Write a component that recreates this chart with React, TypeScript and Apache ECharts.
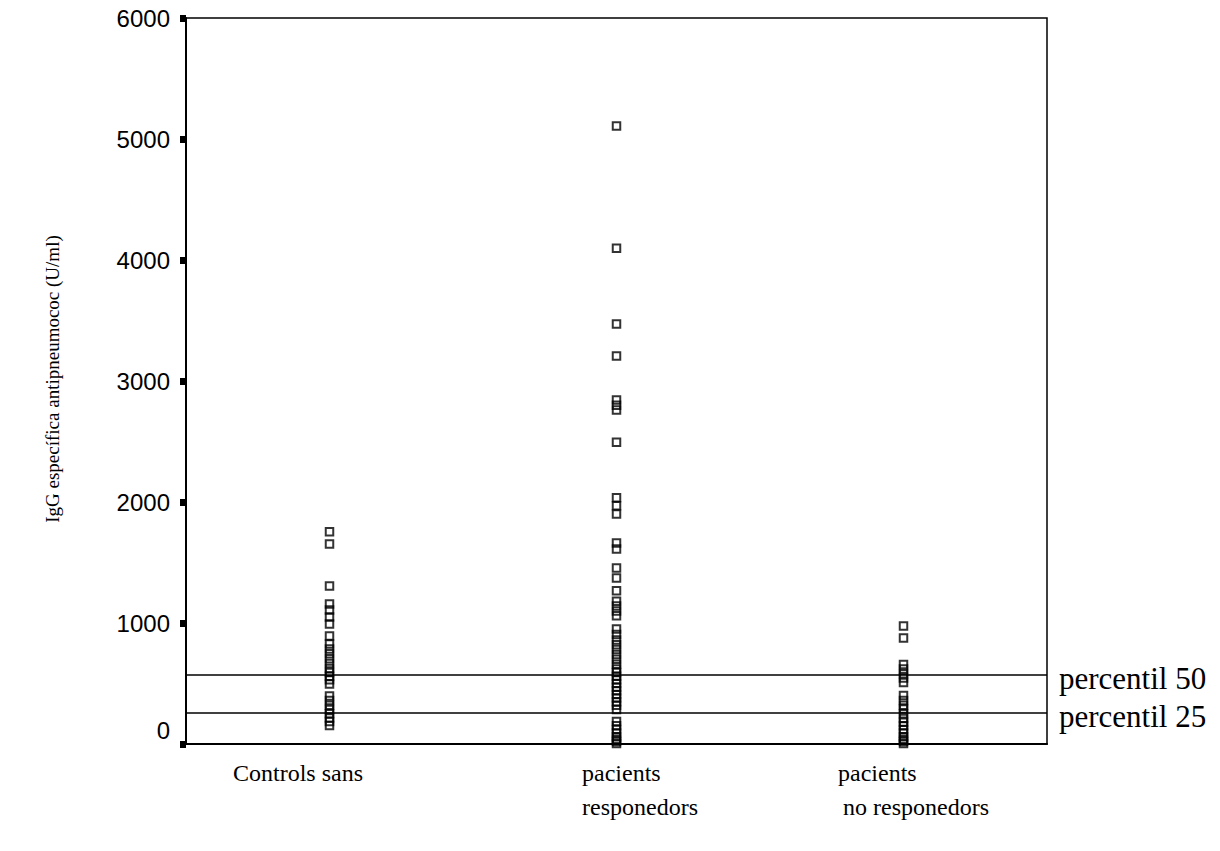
import React, { useEffect, useRef } from "react";
import * as echarts from "echarts";

const categories = ["Controls sans", "pacients responedors", "pacients no responedors"];
const categoryLabelLines = [["Controls sans"], ["pacients", "responedors"], ["pacients", "no responedors"]];

const controls = [1755, 1653, 1306, 1157, 1107, 1050, 992, 893, 826, 785, 745, 705, 665, 625, 590, 560, 530, 496, 397, 360, 320, 285, 250, 215, 185, 153];
const responders = [5107, 4097, 3471, 3207, 2843, 2800, 2760, 2493, 2035, 1969, 1901, 1661, 1612, 1455, 1372, 1267, 1180, 1140, 1100, 1060, 950, 905, 860, 820, 780, 740, 700, 660, 620, 590, 560, 530, 500, 470, 440, 410, 380, 350, 320, 285, 186, 150, 120, 90, 60, 40, 20, 5];
const nonResponders = [975, 876, 657, 620, 580, 545, 508, 400, 360, 320, 290, 250, 210, 180, 150, 120, 90, 60, 40, 20, 5];

const percentileValues = [574, 259];
const percentileLabels = ["percentil 50", "percentil 25"];

const yMin = 0;
const yMax = 6000;
const yInterval = 1000;

const yTitle = "IgG específica antipneumococ (U/ml)";

const SERIF = "'Liberation Serif', 'Times New Roman', serif";
const SANS = "'Liberation Sans', Arial, sans-serif";

export default function App() {
  const ref = useRef<HTMLDivElement>(null);
  useEffect(() => {
    if (!ref.current) return;
    const chart = echarts.init(ref.current, undefined, { renderer: "svg" });
    const groups = [controls, responders, nonResponders];
    const markerStyle = {
      color: "rgba(0,0,0,0)",
      borderColor: "#000",
      borderWidth: 2,
    };
    const series: any[] = groups.map((vals, gi) => ({
      type: "scatter",
      name: categories[gi],
      symbol: "rect",
      symbolSize: 7.5,
      itemStyle: markerStyle,
      data: vals.map((v) => [gi, v]),
      z: 3,
    }));
    series.push({
      type: "line",
      data: [],
      markLine: {
        silent: true,
        symbol: ["none", "none"],
        lineStyle: { color: "#000", width: 1.5, type: "solid" },
        label: {
          show: true,
          position: "end",
          distance: 12,
          fontFamily: SERIF,
          fontSize: 31,
          color: "#000",
          offset: [0, 4],
          formatter: (p: any) => percentileLabels[p.dataIndex],
        },
        data: percentileValues.map((v) => ({ yAxis: v })),
      },
    });

    const graphics: any[] = [];
    const labelLefts = [233, 582, 838];
    const labelLeftsLine2 = [233, 582, 843];
    categoryLabelLines.forEach((lines, i) => {
      lines.forEach((t, j) => {
        graphics.push({
          type: "text",
          x: j === 0 ? labelLefts[i] : labelLeftsLine2[i],
          y: 773 + j * 34,
          style: { text: t, font: `24px ${SERIF}`, fill: "#000", verticalAlign: "middle", align: "left" },
        });
      });
    });
    graphics.push({
      type: "text",
      x: 52,
      y: 379,
      rotation: Math.PI / 2,
      style: {
        text: yTitle,
        font: `19px ${SERIF}`,
        fill: "#000",
        align: "center",
        verticalAlign: "middle",
      },
    });

    chart.setOption({
      animation: false,
      backgroundColor: "#fff",
      grid: {
        left: 186,
        top: 18,
        right: 173,
        bottom: 107,
        show: true,
        borderColor: "#000",
        borderWidth: 1.5,
        containLabel: false,
      },
      xAxis: {
        type: "category",
        data: categories,
        boundaryGap: true,
        axisLine: { show: true, lineStyle: { color: "#000", width: 2 } },
        axisTick: { show: false },
        axisLabel: { show: false },
        splitLine: { show: false },
      },
      yAxis: {
        type: "value",
        min: yMin,
        max: yMax,
        interval: yInterval,
        axisLine: { show: true, lineStyle: { color: "#000", width: 2 } },
        axisTick: { show: true, length: 6, lineStyle: { color: "#000", width: 7 } },
        axisLabel: {
          margin: 16,
          fontFamily: SANS,
          fontSize: 24,
          color: "#000",
          formatter: (v: number) => (v === 0 ? "{z|0}" : String(v)),
          rich: { z: { fontFamily: SANS, fontSize: 24, color: "#000", padding: [0, 0, 28, 0] } },
        },
        splitLine: { show: false },
      },
      graphic: graphics,
      series,
    });
    return () => chart.dispose();
  }, []);
  return (
    <div
      ref={ref}
      style={{ position: "fixed", left: 0, top: 0, width: 1220, height: 851, background: "#fff" }}
    />
  );
}
